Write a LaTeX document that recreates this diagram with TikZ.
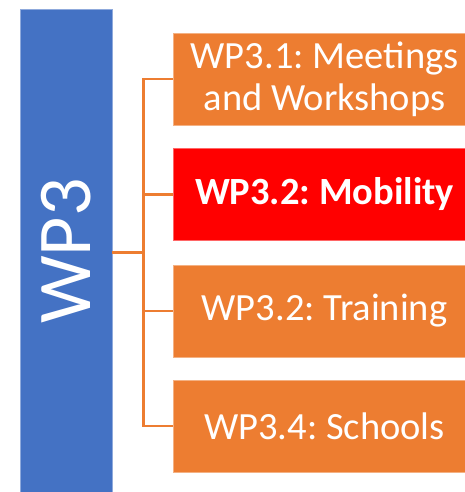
\documentclass[tikz,border=0pt]{standalone}
\usepackage{fontspec}
\setmainfont{Carlito}
\usepackage{xcolor}
\usepackage{tikz}
\usetikzlibrary{positioning,calc}

\definecolor{wpblue}{HTML}{4472C4}
\definecolor{wporange}{HTML}{ED7D31}
\definecolor{wpred}{HTML}{FF0000}

\frenchspacing
\begin{document}
\begin{tikzpicture}[
    x=1pt, y=-1pt,
    % the tall bar on the left
    wpbar/.style={fill=wpblue, draw=wpblue!60!white, line width=0.6pt,
      minimum width=92pt, minimum height=484pt, inner sep=0pt,
      text=white, font=\fontsize{76}{80}\selectfont},
    % the task boxes on the right
    task/.style={fill=wporange, draw=wporange!60!white, line width=0.6pt,
      minimum width=303pt, minimum height=92pt, inner sep=0pt,
      text=white, align=center, font=\fontsize{38.5}{42}\selectfont},
    current/.style={task, fill=wpred, draw=wpred!60!white,
      font=\fontsize{38.5}{42}\selectfont\bfseries},
    link/.style={draw=wporange, line width=2.2pt},
  ]
  \useasboundingbox (0,0) rectangle (464,492);

  \node[wpbar] (wp) at (66,251) {\rotatebox{90}{WP3}};

  \node[task]    (t1) at (324.5,79)  {WP3.1: Meetings\\and Workshops};
  \node[current] (t2) at (324.5,194.5) {WP3.2: Mobility};
  \node[task]    (t3) at (324.5,311) {WP3.2: Training};
  \node[task]    (t4) at (324.5,426) {WP3.4: Schools};

  % branching point between bar and boxes
  \coordinate (hub) at (143.5,252.5);
  \draw[link] (wp.east |- hub) -- (hub);
  \foreach \t in {t1,t2,t3,t4}
    \draw[link] (hub) |- (\t.west);
\end{tikzpicture}
\end{document}
